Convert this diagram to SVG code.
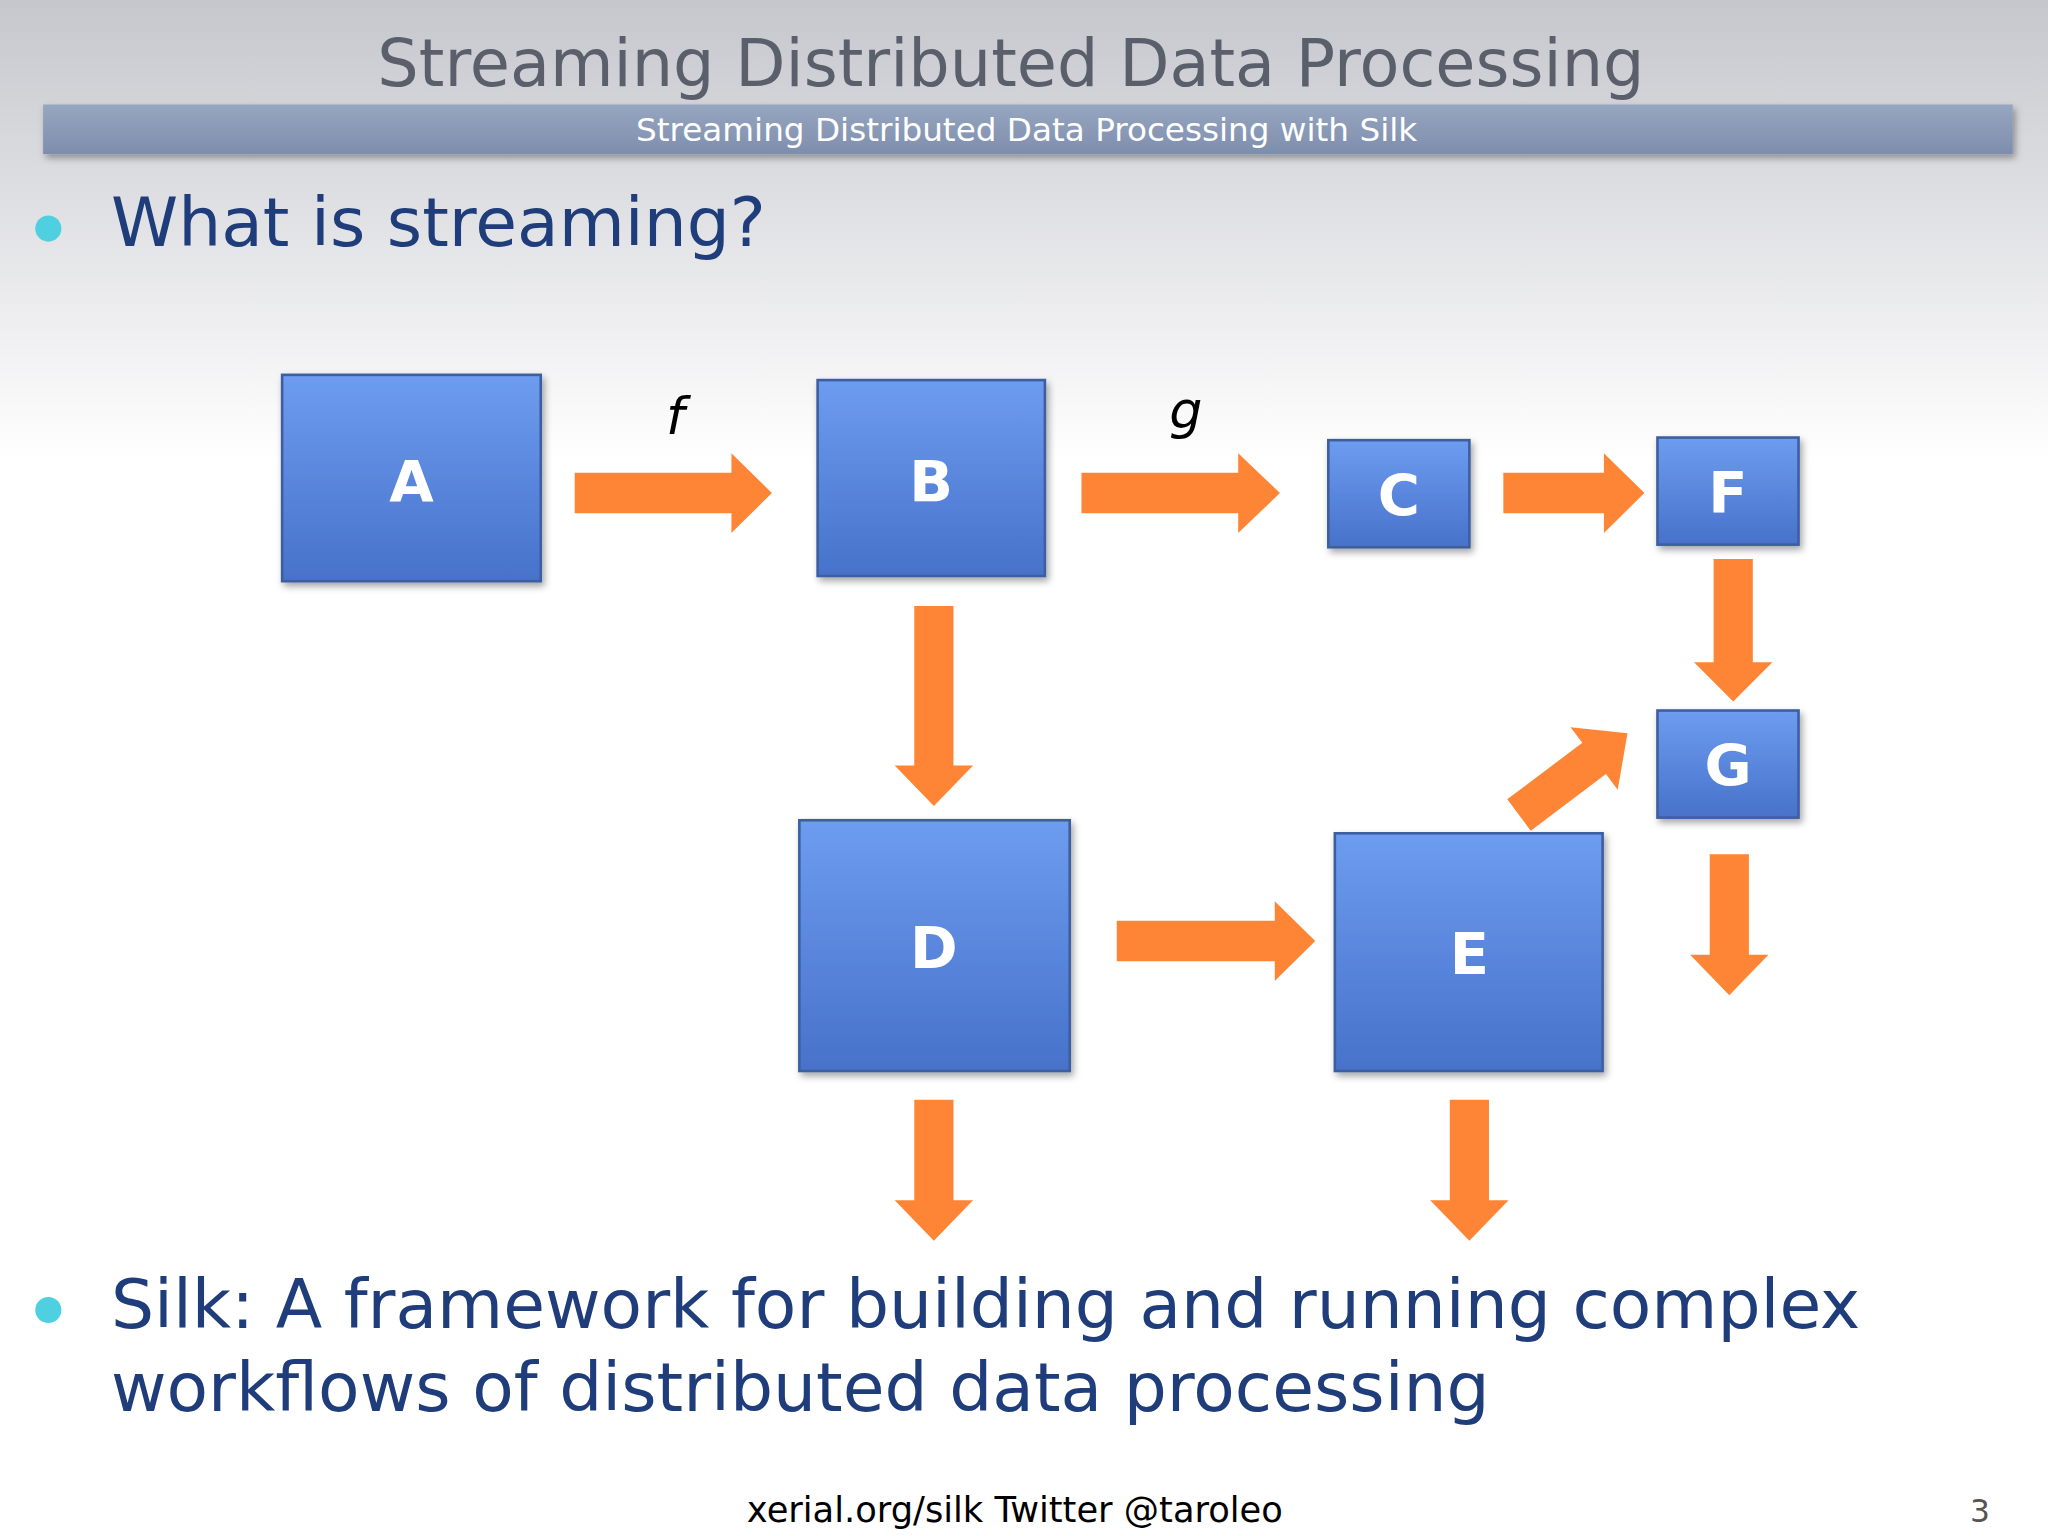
<svg xmlns="http://www.w3.org/2000/svg" width="2048" height="1536" viewBox="0 0 2048 1536">
<defs>
<linearGradient id="bg" x1="0" y1="0" x2="0" y2="1"><stop offset="0" stop-color="#c6c7cd"/><stop offset="0.3" stop-color="#ffffff"/><stop offset="1" stop-color="#ffffff"/></linearGradient>
<linearGradient id="bar" x1="0" y1="0" x2="0" y2="1"><stop offset="0" stop-color="#97a6c0"/><stop offset="1" stop-color="#7d8ead"/></linearGradient>
<linearGradient id="box" x1="0" y1="0" x2="0" y2="1"><stop offset="0" stop-color="#6d9cf0"/><stop offset="1" stop-color="#4772ca"/></linearGradient>
<filter id="sh" x="-10%" y="-10%" width="130%" height="130%"><feDropShadow dx="2" dy="3" stdDeviation="3" flood-opacity="0.35"/></filter>
<style>
.box{fill:url(#box);stroke:#3d5fa0;stroke-width:2;filter:url(#sh)}
.lbl{font-family:"DejaVu Sans",Verdana,sans-serif;font-weight:bold;font-size:44px;fill:#fff;text-anchor:middle}
.arr{fill:#fd8535}
.body{font-family:"DejaVu Sans",Verdana,sans-serif;font-size:52px;fill:#1f3d7a}
.it{font-family:"DejaVu Sans",sans-serif;font-style:italic;font-size:40px;fill:#000;text-anchor:middle}
</style>
</defs>
<rect width="2048" height="1536" fill="url(#bg)"/>
<g transform="scale(1.30612)">
<text x="774" y="66" font-family="DejaVu Sans,Verdana,sans-serif" font-size="50" fill="#5a5f6b" text-anchor="middle">Streaming Distributed Data Processing</text>
<rect x="33" y="80" width="1508" height="38" fill="url(#bar)" filter="url(#sh)"/>
<text x="786" y="108" font-family="DejaVu Sans,Verdana,sans-serif" font-size="25" fill="#fff" text-anchor="middle">Streaming Distributed Data Processing with Silk</text>
<circle cx="37" cy="175" r="10" fill="#4fd0e0"/>
<text x="85" y="188" class="body">What is streaming?</text>
<g id="connectors">
<path class="arr" d="M440,362H560V347L591,377.5L560,408V393H440Z"/>
<path class="arr" d="M828,362H948V347L980,377.5L948,408V393H828Z"/>
<path class="arr" d="M1151,362H1228V347L1259,377.5L1228,408V393H1151Z"/>
<path class="arr" d="M855,705H976V690L1007,720.5L976,751V736H855Z"/>
<path class="arr" d="M700,464V586H685L715,617L745,586H730V464Z"/>
<path class="arr" d="M1312,428V507H1297L1327,537L1357,507H1342V428Z"/>
<path class="arr" d="M1309,654V731H1294L1324,762L1354,731H1339V654Z"/>
<path class="arr" d="M700,842V919H685L715,950L745,919H730V842Z"/>
<path class="arr" d="M1110,842V919H1095L1125,950L1155,919H1140V842Z"/>
<path class="arr" d="M0,-15H72V-30L104,0L72,30V15H0Z" transform="translate(1163,624) rotate(-37)"/>
<text x="517" y="332" class="it">f</text>
<text x="908" y="328" class="it">g</text>
</g>
<g id="A"><rect class="box" x="216" y="287" width="198" height="158"/><text class="lbl" x="315" y="384">A</text></g>
<g id="B"><rect class="box" x="626" y="291" width="174" height="150"/><text class="lbl" x="713" y="384">B</text></g>
<g id="C"><rect class="box" x="1017" y="337" width="108" height="82"/><text class="lbl" x="1071" y="395">C</text></g>
<g id="F"><rect class="box" x="1269" y="335" width="108" height="82"/><text class="lbl" x="1323" y="393">F</text></g>
<g id="G"><rect class="box" x="1269" y="544" width="108" height="82"/><text class="lbl" x="1323" y="602">G</text></g>
<g id="D"><rect class="box" x="612" y="628" width="207" height="192"/><text class="lbl" x="715" y="741">D</text></g>
<g id="E"><rect class="box" x="1022" y="638" width="205" height="182"/><text class="lbl" x="1125" y="746">E</text></g>
<circle cx="37" cy="1003" r="10" fill="#4fd0e0"/>
<text x="85" y="1017" class="body">Silk: A framework for building and running complex</text>
<text x="85" y="1080" class="body">workflows of distributed data processing</text>
<text x="777" y="1165" font-family="DejaVu Sans,Verdana,sans-serif" font-size="27" fill="#000" text-anchor="middle">xerial.org/silk Twitter @taroleo</text>
<text x="1516" y="1165" font-family="DejaVu Sans,Verdana,sans-serif" font-size="24" fill="#555" text-anchor="middle">3</text>
</g>
</svg>
